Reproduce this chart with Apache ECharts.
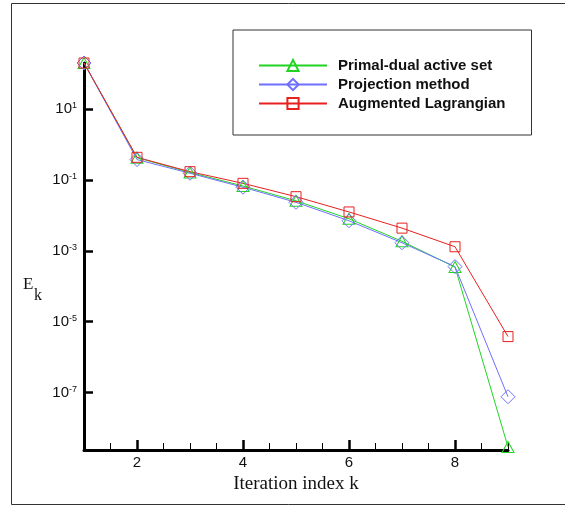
<!DOCTYPE html>
<html>
<head>
<meta charset="utf-8">
<script src="https://cdn.jsdelivr.net/npm/echarts@6/dist/echarts.min.js"></script>
<style>
  html, body { margin: 0; padding: 0; background: #fff; }
  #chart { width: 565px; height: 506px; }
</style>
</head>
<body>
<div id="chart"></div>
<script>
// Iteration index k
var iterations = [1, 2, 3, 4, 5, 6, 7, 8, 9];

// Error E_k per iteration for each solver
var primalDual = [203, 0.43, 0.164, 0.068, 0.026, 0.0081, 0.00187, 3.5e-4, 2.9e-9];
var projection = [203, 0.38, 0.156, 0.063, 0.0236, 0.0071, 0.0017, 3.6e-4, 7.6e-8];
var augLagrangian = [203, 0.44, 0.173, 0.081, 0.034, 0.0126, 0.0044, 0.00131, 3.8e-6];

var seriesNames = ['Primal-dual active set', 'Projection method', 'Augmented Lagrangian'];

// Axis ticks
var xMajorTicks = [2, 4, 6, 8];
var yTicks = [1e-7, 1e-5, 1e-3, 1e-1, 1e1];
var yMin = 2.38e-9;
var yMax = 203;

function pairs(vals) {
  return iterations.map(function (k, i) { return [k, vals[i]]; });
}

var chart = echarts.init(document.getElementById('chart'));

function lineSeries(name, vals, color, symbol, size) {
  return {
    name: name,
    type: 'line',
    data: pairs(vals),
    xAxisIndex: 0,
    symbol: symbol,
    symbolSize: size,
    showAllSymbol: true,
    lineStyle: { color: color, width: 1 },
    itemStyle: { color: 'rgba(255,255,255,0)', borderColor: color, borderWidth: 1 },
    emphasis: { disabled: true },
    animation: false
  };
}

chart.setOption({
  animation: false,
  grid: { left: 84, right: 57, top: 63, bottom: 56, containLabel: false },
  graphic: [
    {
      type: 'rect',
      shape: { x: 11.5, y: 3.5, width: 570, height: 501 },
      style: { fill: 'none', stroke: '#333', lineWidth: 1 },
      silent: true, z: -1
    },
    {
      type: 'text', left: 23, top: 276,
      style: { text: 'E', font: '17px "Liberation Serif"', fill: '#111' }
    },
    {
      type: 'text', left: 34, top: 288,
      style: { text: 'k', font: '16px "Liberation Serif"', fill: '#111' }
    }
  ],
  legend: {
    orient: 'vertical',
    left: 233,
    top: 30,
    padding: [28, 26, 24, 25],
    itemWidth: 68,
    itemHeight: 14,
    itemGap: 4,
    borderColor: '#333',
    borderWidth: 1,
    data: seriesNames,
    textStyle: {
      fontFamily: 'Liberation Sans',
      fontWeight: 'bold',
      fontSize: 15,
      color: '#111',
      padding: [0, 0, 0, 6]
    }
  },
  xAxis: [
    {
      type: 'value',
      min: 1, max: 9, interval: 0.5,
      axisLine: { show: true, lineStyle: { color: '#000', width: 3 } },
      axisTick: { show: true, inside: true, length: 7, lineStyle: { color: '#000', width: 1 } },
      axisLabel: { show: false },
      splitLine: { show: false }
    },
    {
      type: 'value',
      position: 'bottom',
      min: 1, max: 9,
      axisLine: { show: false },
      axisTick: { show: true, inside: true, length: 10, customValues: xMajorTicks, lineStyle: { color: '#000', width: 2.5 } },
      axisLabel: {
        show: true, customValues: xMajorTicks, margin: 5,
        fontFamily: 'Liberation Sans', fontSize: 15, color: '#111'
      },
      splitLine: { show: false },
      name: 'Iteration index k',
      nameLocation: 'middle',
      nameGap: 23,
      nameTextStyle: { fontFamily: 'Liberation Serif', fontSize: 19, color: '#111' }
    }
  ],
  yAxis: {
    type: 'log',
    logBase: 10,
    min: yMin, max: yMax,
    axisLine: { show: true, lineStyle: { color: '#000', width: 3 } },
    axisTick: { show: true, inside: true, length: 9, customValues: yTicks, lineStyle: { color: '#000', width: 2.5 } },
    axisLabel: {
      show: true,
      customValues: yTicks,
      margin: 7,
      formatter: function (v) {
        var e = Math.round(Math.log(v) / Math.LN10);
        return '{b|10}{e|' + e + '}';
      },
      rich: {
        b: { fontFamily: 'Liberation Sans', fontSize: 15, color: '#111', lineHeight: 16 },
        e: { fontFamily: 'Liberation Sans', fontSize: 9, color: '#111', verticalAlign: 'top', lineHeight: 16 }
      }
    },
    splitLine: { show: false },
    minorTick: { show: false }
  },
  series: [
    lineSeries(seriesNames[0], primalDual, '#22d422', 'triangle', [12, 11]),
    lineSeries(seriesNames[1], projection, '#6f6fff', 'diamond', 14),
    lineSeries(seriesNames[2], augLagrangian, '#e82020', 'rect', 10)
  ]
});
</script>
</body>
</html>
